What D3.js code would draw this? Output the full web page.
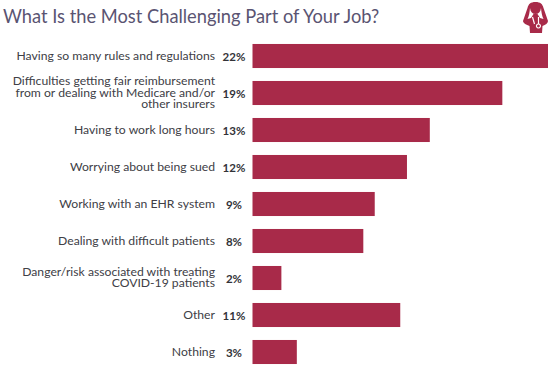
<!DOCTYPE html>
<html>
<head>
<meta charset="utf-8">
<script src="https://cdn.jsdelivr.net/npm/d3@7"></script>
<style>
  html, body { margin: 0; padding: 0; background: #fff; }
  svg { display: block; font-family: Lato, "Open Sans", sans-serif; }
</style>
</head>
<body>
<div id="chart"></div>
<script>
var titleText = "What Is the Most Challenging Part of Your Job?";

var categories = [
  ["Having so many rules and regulations"],
  ["Difficulties getting fair reimbursement", "from or dealing with Medicare and/or", "other insurers"],
  ["Having to work long hours"],
  ["Worrying about being sued"],
  ["Working with an EHR system"],
  ["Dealing with difficult patients"],
  ["Danger/risk associated with treating", "COVID-19 patients"],
  ["Other"],
  ["Nothing"]
];

// printed labels
var percentLabels = ["22%", "19%", "13%", "12%", "9%", "8%", "2%", "11%", "3%"];

// bar lengths, they differ slightly from the rounded labels
var barValues = [22, 18.6, 13.2, 11.5, 9.1, 8.25, 2.15, 11, 3.3];

var width = 550, height = 367;
var margin = { left: 252.5, right: 2, top: 37.5, bottom: -3.5 };

var svg = d3.select("#chart").append("svg")
    .attr("width", width)
    .attr("height", height);

svg.append("text")
    .attr("x", 3)
    .attr("y", 23)
    .attr("font-size", "18.3px")
    .attr("fill", "#5a5472")
    .text(titleText);

var x = d3.scaleLinear()
    .domain([0, 22])
    .range([margin.left, width - margin.right]);

var y = d3.scaleBand()
    .domain(d3.range(categories.length))
    .range([margin.top, height - margin.bottom])
    .paddingInner(0.35)
    .paddingOuter(0.175);

var rows = svg.selectAll(".row")
    .data(barValues)
    .enter().append("g")
    .attr("class", "row");

rows.append("rect")
    .attr("x", x(0))
    .attr("y", function(d, i) { return y(i); })
    .attr("width", function(d) { return x(d) - x(0); })
    .attr("height", y.bandwidth())
    .attr("fill", "#a82a49");

// percent labels
rows.append("text")
    .attr("x", 234)
    .attr("y", function(d, i) { return y(i) + y.bandwidth() / 2 + 4.5; })
    .attr("text-anchor", "middle")
    .attr("font-size", "11.5px")
    .attr("font-weight", 700)
    .attr("fill", "#333338")
    .text(function(d, i) { return percentLabels[i]; });

// category labels, right aligned with up to three lines
rows.each(function(d, i) {
  var lines = categories[i];
  var lineHeight = 11.5;
  var cy = y(i) + y.bandwidth() / 2 + 3.5 - (lines.length - 1) * lineHeight / 2;
  var t = d3.select(this).append("text")
      .attr("text-anchor", "end")
      .attr("font-size", "12.2px")
      .attr("fill", "#404046");
  lines.forEach(function(line, k) {
    t.append("tspan")
        .attr("x", 215)
        .attr("y", cy + k * lineHeight)
        .text(line);
  });
});

// doctor icon top right
var icon = svg.append("g")
    .attr("transform", "translate(535.5,0)")
    .attr("fill", "#a82a49");

icon.append("path")
    .attr("d", "M0,2 C-5,2 -7,4 -8,8 L-12.5,21 C-12.5,23 -9,25 -6,26 L-5.5,33 L6.5,33 L7,26 C10,25 12.5,23 12.5,21 L8,8 C7,4 5,2 0,2 Z");
// gap between the raised arms and the face
icon.append("path")
    .attr("d", "M-5.5,8 C-6,13 -6.5,16 -8,19 L-4.5,18 L-2,14 L2,14 L4.5,18 L8,19 C6.5,16 6,13 5.5,8 C5,12 3,14 0,14 C-3,14 -5,12 -5.5,8 Z")
    .attr("fill", "#fff");
// stethoscope
icon.append("path")
    .attr("d", "M-3,17 L-1,24 M3,17 L3,24 A2,2 0 1 1 2.9,24")
    .attr("fill", "none")
    .attr("stroke", "#fff")
    .attr("stroke-width", 1.2);
</script>
</body>
</html>
